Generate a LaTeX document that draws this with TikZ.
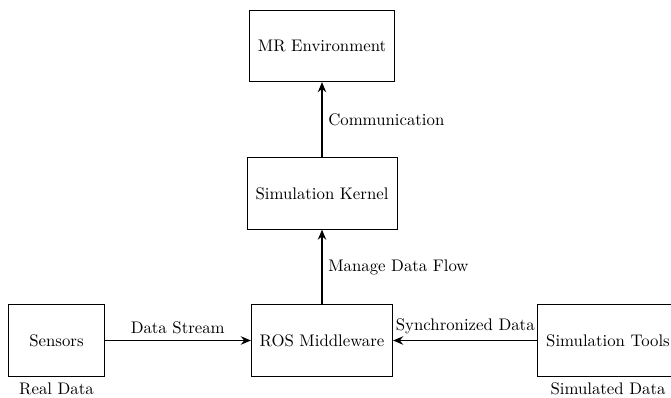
\documentclass[tikz,border=0pt]{standalone}
\usetikzlibrary{arrows.meta}
\begin{document}
\begin{tikzpicture}[x=0.596pt,y=-0.596pt,
  box/.style={draw, minimum height=1.5cm, minimum width=2cm, inner xsep=5pt, align=center},
  conn/.style={-{Stealth[length=6pt,width=5pt]}, thick}]
\useasboundingbox (0,0) rectangle (671,398);
\node[box, label=below:{Real Data}] (sens) at (56.5,340.5) {Sensors};
\node[box] (ros) at (322,340.5) {ROS Middleware};
\node[box, label=below:{Simulated Data}] (tools) at (608,340.5) {Simulation Tools};
\node[box] (kern) at (322,193.5) {Simulation Kernel};
\node[box] (mr) at (322,46) {MR Environment};
\draw[conn] (sens) -- node[above] {Data Stream} (ros);
\draw[conn] (tools) -- node[above] {Synchronized Data} (ros);
\draw[conn] (ros) -- node[right] {Manage Data Flow} (kern);
\draw[conn] (kern) -- node[right] {Communication} (mr);
\end{tikzpicture}
\end{document}
